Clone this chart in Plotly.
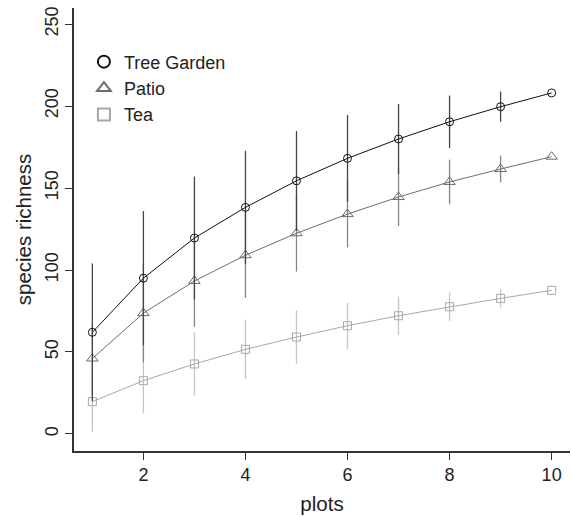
import plotly.graph_objects as go

plots = [1, 2, 3, 4, 5, 6, 7, 8, 9, 10]
tree_garden = [62, 95, 119.5, 138.2, 154.4, 168.1, 179.9, 190.4, 199.6, 208]
tree_garden_sd = [42, 41, 37.5, 34.5, 30.4, 26.4, 21.3, 16, 9.2, 0]
patio = [46, 73.7, 93.3, 109, 122.4, 134.1, 144.5, 153.7, 161.6, 169.1]
patio_sd = [21, 30, 28, 26, 23.4, 20.3, 17.7, 13.6, 8.2, 0]
tea = [19.7, 32.5, 42.7, 51.6, 59.1, 66, 72.1, 77.6, 82.7, 87.6]
tea_sd = [18.3, 20, 19.5, 18, 16.3, 14, 11.7, 8.7, 5.6, 0]

x_ticks = [2, 4, 6, 8, 10]
y_ticks = [0, 50, 100, 150, 200, 250]

FONT = "Liberation Sans, Arial, sans-serif"

series = [
    # name, values, sd, line/marker colour, errorbar colour, symbol, size, rank
    ("Tea", tea, tea_sd, "#a8a8a8", "#c6c6c6", "square-open", 8, 3),
    ("Patio", patio, patio_sd, "#6e6e6e", "#858585", "triangle-up-open", 10, 2),
    ("Tree Garden", tree_garden, tree_garden_sd, "#111111", "#444444", "circle-open", 8, 1),
]

fig = go.Figure()
for name, vals, sd, col, ecol, sym, sz, rank in series:
    fig.add_trace(go.Scatter(
        x=plots, y=vals, mode="lines+markers", name=name, showlegend=False,
        line=dict(color=col, width=1),
        marker=dict(symbol=sym, size=sz, color=col, line=dict(color=col, width=1)),
        error_y=dict(type="data", array=sd, visible=True, width=0,
                     thickness=1.3, color=ecol),
    ))
for name, vals, sd, col, ecol, sym, sz, rank in series:
    fig.add_trace(go.Scatter(
        x=[None], y=[None], mode="markers", name=name, legendrank=rank,
        marker=dict(symbol=sym, size=sz, color=col, line=dict(color=col, width=0.9)),
    ))

fig.update_layout(
    width=572, height=517,
    margin=dict(l=74, r=2, t=8, b=66, autoexpand=False),
    paper_bgcolor="white", plot_bgcolor="white",
    font=dict(family=FONT, size=18, color="#222222"),
    legend=dict(x=0.02, y=0.92, xanchor="left", yanchor="top",
                bgcolor="rgba(0,0,0,0)", font=dict(size=18),
                itemsizing="constant", tracegroupgap=0),
    xaxis=dict(range=[0.64, 10.36], tickvals=x_ticks, showgrid=False, zeroline=False,
               automargin=False,
               showline=True, linecolor="#333333", linewidth=1.5,
               ticks="outside", ticklen=7, tickwidth=1.2, tickcolor="#333333",
               ticklabelstandoff=0,
               title=dict(text="plots", font=dict(size=20.5), standoff=12)),
    yaxis=dict(range=[-10.4, 259.8], tickvals=y_ticks, showgrid=False, zeroline=False,
               automargin=False,
               showline=True, linecolor="#333333", linewidth=1.5,
               ticks="outside", ticklen=7, tickwidth=1.2, tickcolor="#333333",
               tickangle=-90,
               title=dict(text="species richness", font=dict(size=20.5), standoff=5)),
)

fig.write_html("out.html", config={"displayModeBar": False},
               post_script="document.body.style.margin='0';")
